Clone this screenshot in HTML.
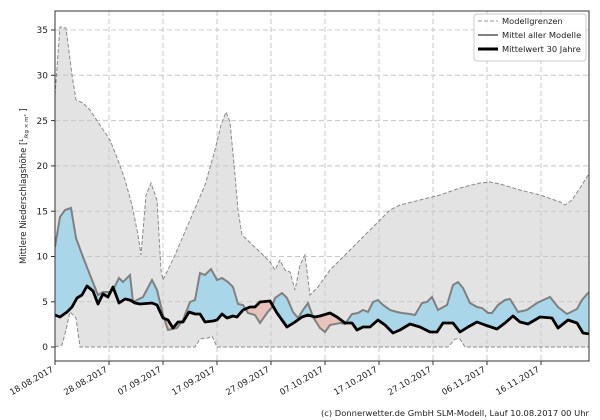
<!DOCTYPE html>
<html><head><meta charset="utf-8"><style>
body{margin:0;background:#fff;}
svg{display:block;font-family:"DejaVu Sans","Liberation Sans",sans-serif;}
</style></head><body>
<svg width="600" height="420" viewBox="0 0 600 420" xmlns="http://www.w3.org/2000/svg">
<defs>
<clipPath id="plot"><rect x="55" y="11" width="534" height="350"/></clipPath>
<clipPath id="aboveBlack"><polygon points="55,0 55,315 60,317 67,312 72,307 77,298 82,295 87,286 93,291 98,304 103,294 108,297 113,287 119,303 125,299 130,300 135,303 140,304 152,303 157,305 163,318 168,320 173,328 178,322 183,322 189,312 195,314 200,314 205,322 213,321 217,320 222,314 227,318 233,316 237,317 243,310 250,307 255,307 260,302 270,301 277,313 287,327 295,322 302,317 308,315 315,317 320,316 330,313 337,317 345,323 352,323 357,330 363,327 370,327 378,320 385,325 393,333 400,330 410,324 420,327 430,332 437,332 443,323 453,323 460,332 468,327 477,322 485,325 497,329 505,323 513,316 520,322 528,324 540,317 552,318 558,328 568,320 577,323 583,333 590,334 590,0"/></clipPath>
<clipPath id="belowBlack"><polygon points="55,420 55,315 60,317 67,312 72,307 77,298 82,295 87,286 93,291 98,304 103,294 108,297 113,287 119,303 125,299 130,300 135,303 140,304 152,303 157,305 163,318 168,320 173,328 178,322 183,322 189,312 195,314 200,314 205,322 213,321 217,320 222,314 227,318 233,316 237,317 243,310 250,307 255,307 260,302 270,301 277,313 287,327 295,322 302,317 308,315 315,317 320,316 330,313 337,317 345,323 352,323 357,330 363,327 370,327 378,320 385,325 393,333 400,330 410,324 420,327 430,332 437,332 443,323 453,323 460,332 468,327 477,322 485,325 497,329 505,323 513,316 520,322 528,324 540,317 552,318 558,328 568,320 577,323 583,333 590,334 590,420"/></clipPath>
</defs>
<g clip-path="url(#plot)">
<polygon fill="#e3e3e3" points="55,95 60,27 66,28 72,75 76,100 83,103 90,110 100,125 110,140 118,160 125,180 132,205 138,235 141,255 146,195 151,183 157,200 161,270 163,280 175,255 190,220 205,185 215,150 221,125 226,112 230,122 235,175 238,210 242,235 260,252 270,262 275,270 280,260 285,270 290,272 295,290 300,265 305,255 310,295 318,287 330,270 350,250 370,230 380,220 390,210 400,205 420,200 440,195 460,188 480,183 490,182 500,184 520,190 540,195 560,202 565,205 572,200 580,188 590,172 590,347 465,347 460,339 455,339 448,347 217,347 212,336 208,338 200,339 195,347 80,347 76,318 70,312 66,330 62,345 55,347"/>
<g stroke="#c8c8c8" stroke-width="1" stroke-dasharray="5,3">
<line x1="55" x2="590" y1="30" y2="30"/><line x1="55" x2="590" y1="75.3" y2="75.3"/><line x1="55" x2="590" y1="120.6" y2="120.6"/><line x1="55" x2="590" y1="165.9" y2="165.9"/><line x1="55" x2="590" y1="211.2" y2="211.2"/><line x1="55" x2="590" y1="256.5" y2="256.5"/><line x1="55" x2="590" y1="301.8" y2="301.8"/>
<line x1="109" x2="109" y1="11" y2="361"/><line x1="163" x2="163" y1="11" y2="361"/><line x1="217" x2="217" y1="11" y2="361"/><line x1="271" x2="271" y1="11" y2="361"/><line x1="325" x2="325" y1="11" y2="361"/><line x1="379" x2="379" y1="11" y2="361"/><line x1="433" x2="433" y1="11" y2="361"/><line x1="487" x2="487" y1="11" y2="361"/><line x1="541" x2="541" y1="11" y2="361"/>
</g>
<polygon fill="#aad6ea" clip-path="url(#aboveBlack)" points="55,420 55,247 60,217 65,210 71,208 76,238 83,257 90,275 98,295 103,292 110,292 113,290 119,278 123,282 130,275 133,302 143,297 152,280 157,290 163,315 168,330 177,328 183,320 190,302 195,300 200,273 205,275 211,269 217,280 222,278 228,282 233,287 238,304 243,305 248,313 255,315 260,323 267,313 272,307 275,298 282,293 287,298 293,312 298,318 303,310 308,303 313,317 320,328 325,332 330,325 340,323 345,324 352,314 358,313 363,310 368,312 373,302 378,300 383,305 390,310 397,312 402,313 410,314 415,315 422,303 427,302 432,297 438,310 447,305 453,285 458,282 463,288 470,303 477,307 482,308 488,313 492,313 498,305 505,300 510,299 518,312 527,310 537,303 550,297 558,307 567,314 577,309 582,300 588,293 590,292 590,420"/>
<polygon fill="#e8c3bb" clip-path="url(#belowBlack)" points="55,0 55,247 60,217 65,210 71,208 76,238 83,257 90,275 98,295 103,292 110,292 113,290 119,278 123,282 130,275 133,302 143,297 152,280 157,290 163,315 168,330 177,328 183,320 190,302 195,300 200,273 205,275 211,269 217,280 222,278 228,282 233,287 238,304 243,305 248,313 255,315 260,323 267,313 272,307 275,298 282,293 287,298 293,312 298,318 303,310 308,303 313,317 320,328 325,332 330,325 340,323 345,324 352,314 358,313 363,310 368,312 373,302 378,300 383,305 390,310 397,312 402,313 410,314 415,315 422,303 427,302 432,297 438,310 447,305 453,285 458,282 463,288 470,303 477,307 482,308 488,313 492,313 498,305 505,300 510,299 518,312 527,310 537,303 550,297 558,307 567,314 577,309 582,300 588,293 590,292 590,0"/>
<polyline fill="none" stroke="#8a8a8a" stroke-width="1" stroke-dasharray="4,2" points="55,95 60,27 66,28 72,75 76,100 83,103 90,110 100,125 110,140 118,160 125,180 132,205 138,235 141,255 146,195 151,183 157,200 161,270 163,280 175,255 190,220 205,185 215,150 221,125 226,112 230,122 235,175 238,210 242,235 260,252 270,262 275,270 280,260 285,270 290,272 295,290 300,265 305,255 310,295 318,287 330,270 350,250 370,230 380,220 390,210 400,205 420,200 440,195 460,188 480,183 490,182 500,184 520,190 540,195 560,202 565,205 572,200 580,188 590,172"/>
<polyline fill="none" stroke="#8a8a8a" stroke-width="1" stroke-dasharray="4,2" points="55,347 62,345 66,330 70,312 76,318 80,347 195,347 200,339 208,338 212,336 217,347 448,347 455,339 460,339 465,347 590,347"/>
<polyline fill="none" stroke="#808080" stroke-width="2" points="55,247 60,217 65,210 71,208 76,238 83,257 90,275 98,295 103,292 110,292 113,290 119,278 123,282 130,275 133,302 143,297 152,280 157,290 163,315 168,330 177,328 183,320 190,302 195,300 200,273 205,275 211,269 217,280 222,278 228,282 233,287 238,304 243,305 248,313 255,315 260,323 267,313 272,307 275,298 282,293 287,298 293,312 298,318 303,310 308,303 313,317 320,328 325,332 330,325 340,323 345,324 352,314 358,313 363,310 368,312 373,302 378,300 383,305 390,310 397,312 402,313 410,314 415,315 422,303 427,302 432,297 438,310 447,305 453,285 458,282 463,288 470,303 477,307 482,308 488,313 492,313 498,305 505,300 510,299 518,312 527,310 537,303 550,297 558,307 567,314 577,309 582,300 588,293 590,292"/>
<polyline fill="none" stroke="#000" stroke-width="2.8" stroke-linejoin="round" points="55,315 60,317 67,312 72,307 77,298 82,295 87,286 93,291 98,304 103,294 108,297 113,287 119,303 125,299 130,300 135,303 140,304 152,303 157,305 163,318 168,320 173,328 178,322 183,322 189,312 195,314 200,314 205,322 213,321 217,320 222,314 227,318 233,316 237,317 243,310 250,307 255,307 260,302 270,301 277,313 287,327 295,322 302,317 308,315 315,317 320,316 330,313 337,317 345,323 352,323 357,330 363,327 370,327 378,320 385,325 393,333 400,330 410,324 420,327 430,332 437,332 443,323 453,323 460,332 468,327 477,322 485,325 497,329 505,323 513,316 520,322 528,324 540,317 552,318 558,328 568,320 577,323 583,333 590,334"/>
</g>
<rect x="55" y="11" width="534" height="350" fill="none" stroke="#333" stroke-width="1"/>
<g font-size="9" fill="#222" text-anchor="end">
<text x="48" y="350">0</text><text x="48" y="305">5</text><text x="48" y="259.7">10</text><text x="48" y="214.4">15</text><text x="48" y="169.1">20</text><text x="48" y="123.8">25</text><text x="48" y="78.5">30</text><text x="48" y="33.2">35</text>
</g>
<g stroke="#333"><line x1="51" x2="55" y1="347" y2="347"/><line x1="51" x2="55" y1="301.8" y2="301.8"/><line x1="51" x2="55" y1="256.5" y2="256.5"/><line x1="51" x2="55" y1="211.2" y2="211.2"/><line x1="51" x2="55" y1="165.9" y2="165.9"/><line x1="51" x2="55" y1="120.6" y2="120.6"/><line x1="51" x2="55" y1="75.3" y2="75.3"/><line x1="51" x2="55" y1="30" y2="30"/>
<line x1="55" x2="55" y1="361" y2="365"/><line x1="109" x2="109" y1="361" y2="365"/><line x1="163" x2="163" y1="361" y2="365"/><line x1="217" x2="217" y1="361" y2="365"/><line x1="271" x2="271" y1="361" y2="365"/><line x1="325" x2="325" y1="361" y2="365"/><line x1="379" x2="379" y1="361" y2="365"/><line x1="433" x2="433" y1="361" y2="365"/><line x1="487" x2="487" y1="361" y2="365"/><line x1="541" x2="541" y1="361" y2="365"/></g>
<g font-size="8.5" fill="#222" text-anchor="end">
<text transform="translate(54,371) rotate(-30)">18.08.2017</text>
<text transform="translate(108,371) rotate(-30)">28.08.2017</text>
<text transform="translate(162,371) rotate(-30)">07.09.2017</text>
<text transform="translate(216,371) rotate(-30)">17.09.2017</text>
<text transform="translate(270,371) rotate(-30)">27.09.2017</text>
<text transform="translate(324,371) rotate(-30)">07.10.2017</text>
<text transform="translate(378,371) rotate(-30)">17.10.2017</text>
<text transform="translate(432,371) rotate(-30)">27.10.2017</text>
<text transform="translate(486,371) rotate(-30)">06.11.2017</text>
<text transform="translate(540,371) rotate(-30)">16.11.2017</text>
</g>
<text transform="translate(26,264) rotate(-90)" font-size="8.5" fill="#222">Mittlere Niederschlagshöhe [<tspan font-size="5.5" dy="-3">L</tspan><tspan font-size="5.5" dy="5">/kg × m²</tspan><tspan dy="-2"> ]</tspan></text>
<rect x="474" y="14" width="112" height="47" rx="3" fill="#fff" fill-opacity="0.85" stroke="#ccc"/>
<line x1="478" x2="498" y1="21" y2="21" stroke="#999" stroke-dasharray="4,2"/>
<line x1="478" x2="498" y1="35" y2="35" stroke="#808080" stroke-width="2"/>
<line x1="478" x2="498" y1="49" y2="49" stroke="#000" stroke-width="3"/>
<g font-size="8.3" fill="#222"><text x="502" y="24">Modellgrenzen</text><text x="502" y="38">Mittel aller Modelle</text><text x="502" y="52">Mittelwert 30 Jahre</text></g>
<text x="589" y="416" font-size="8.3" fill="#222" text-anchor="end" textLength="268" lengthAdjust="spacingAndGlyphs">(c) Donnerwetter.de GmbH SLM-Modell, Lauf 10.08.2017 00 Uhr</text>
</svg>
</body></html>
